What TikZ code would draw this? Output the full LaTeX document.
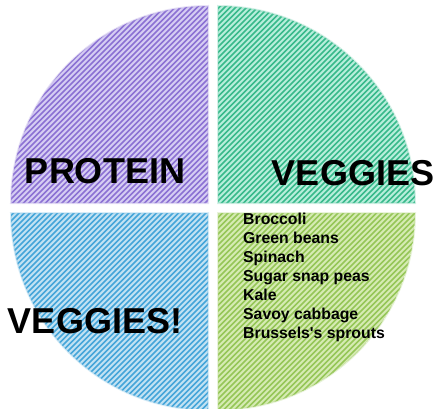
\documentclass[tikz,border=0pt]{standalone}
\usepackage{fontspec}
\setmainfont{Liberation Sans}
\definecolor{pbg}{HTML}{D6CDF3}\definecolor{pst}{HTML}{8B71D3}
\definecolor{tbg}{HTML}{B8EEDC}\definecolor{tst}{HTML}{38B98B}
\definecolor{bbg}{HTML}{C2E2F3}\definecolor{bst}{HTML}{45A5D9}
\definecolor{gbg}{HTML}{D6EBB3}\definecolor{gst}{HTML}{95C657}
\tikzset{
  bigtext/.style={font=\bfseries\fontsize{36}{40}\selectfont, inner sep=0pt, anchor=base},
  listtext/.style={font=\bfseries\fontsize{15.8}{19}\selectfont, inner sep=0pt, anchor=base west},
}
\newcommand{\stripedquarter}[3]{%
  \begin{scope}
    \clip #1;
    \fill[#2] #1;
    \foreach \k in {0,...,165}{
      \draw[#3, line width=1.5pt] ({\k*5.5-460},-20) -- ++(460,460);
    }
  \end{scope}
  \draw[#3!70, opacity=0.3, line width=2pt] #1;
}
\begin{document}
\begin{tikzpicture}[x=1pt,y=1pt]
\useasboundingbox (0,0) rectangle (438,408);
\def\R{197}
\stripedquarter{(208,205) -- ++(-\R,0) arc[start angle=180,end angle=90,radius=\R] -- cycle}{pbg}{pst}
\stripedquarter{(218,205) -- ++(0,\R) arc[start angle=90,end angle=0,radius=\R] -- cycle}{tbg}{tst}
\stripedquarter{(208,195) -- ++(0,-\R) arc[start angle=270,end angle=180,radius=\R] -- cycle}{bbg}{bst}
\stripedquarter{(218,195) -- ++(\R,0) arc[start angle=0,end angle=-90,radius=\R] -- cycle}{gbg}{gst}
\node[bigtext] (protein) at (105,225) {PROTEIN};
\node[bigtext] (veggies) at (353,223) {VEGGIES};
\node[bigtext] (veggiesx) at (95,75) {VEGGIES!};
\foreach \t [count=\i from 0] in {Broccoli,Green beans,Spinach,Sugar snap peas,Kale,Savoy cabbage,Brussels\textquotesingle s sprouts}{
  \node[listtext] (item\i) at (243,{184-19*\i}) {\t};
}
\end{tikzpicture}
\end{document}
